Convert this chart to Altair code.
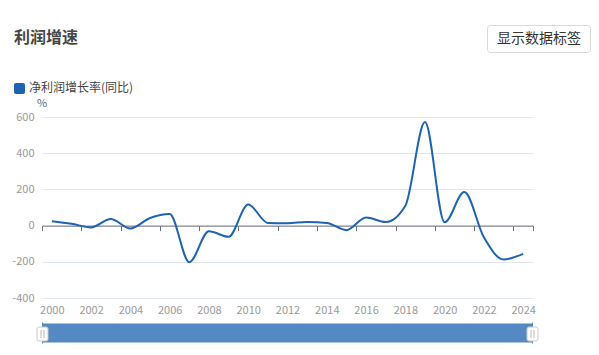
import altair as alt
import pandas as pd

# ---- data ----
years = list(range(2000, 2025))
growth = [24, 10, -10, 37, -16, 42, 64, -202, -31, -62, 116, 15, 13, 20, 15,
          -25, 45, 20, 110, 572, 18, 185, -65, -187, -156]
y_ticks = [-400, -200, 0, 200, 400, 600]
x_label_years = [y for y in years if y % 2 == 0]
# band boundaries where the zero-axis carries ticks
x_tick_bounds = [y - 0.5 for y in x_label_years] + [years[-1] + 0.5]

series_name = "净利润增长率(同比)"
title_text = "利润增速"
button_text = "显示数据标签"
unit_text = "%"

W, H = 491, 181
FONT = "Noto Sans CJK SC"
LINE_COLOR = "#1f64b0"
AXIS_COLOR = "#6e7079"
LABEL_COLOR = "#9a9a9a"
GRID_COLOR = "#e0e6f1"

df = pd.DataFrame({"year": years, "value": growth})

x_dom = [years[0] - 0.5, years[-1] + 0.5]
y_dom = [y_ticks[0], y_ticks[-1]]
xscale = alt.Scale(domain=x_dom, nice=False, zero=False)
yscale = alt.Scale(domain=y_dom, nice=False)

line = alt.Chart(df).mark_line(
    interpolate="monotone", color=LINE_COLOR, strokeWidth=2
).encode(
    x=alt.X("year:Q", scale=xscale,
            axis=alt.Axis(values=x_label_years, labelExpr="'' + datum.value",
                          orient="bottom",
                          domain=False, ticks=False, grid=False,
                          labelColor=LABEL_COLOR, labelFontSize=11, labelFont=FONT,
                          labelPadding=6, title=None, labelFlush=False)),
    y=alt.Y("value:Q", scale=yscale,
            axis=alt.Axis(values=y_ticks, labelExpr="'' + datum.value",
                          domain=False, ticks=False,
                          gridColor=GRID_COLOR, gridWidth=1,
                          labelColor=LABEL_COLOR, labelFontSize=11, labelFont=FONT,
                          labelPadding=8, title=None)),
)

# zero axis line with ticks at band boundaries
zero_offset = -H * (0 - y_dom[0]) / (y_dom[1] - y_dom[0])
zero_axis = alt.Chart(df).mark_point(opacity=0).encode(
    x=alt.X("year:Q", scale=xscale,
            axis=alt.Axis(values=x_tick_bounds, orient="bottom", offset=zero_offset,
                          labels=False, grid=False, domain=True,
                          domainColor=AXIS_COLOR, domainWidth=1,
                          tickColor=AXIS_COLOR, tickSize=5, tickWidth=1,
                          title=None)),
    y=alt.value(0),
)

one = pd.DataFrame({"a": [0]})

title = alt.Chart(one).mark_text(
    text=title_text, font=FONT, fontSize=16, fontWeight="bold",
    color="#464646", align="left", baseline="middle"
).encode(x=alt.value(-28), y=alt.value(-79))

legend_box = alt.Chart(one).mark_rect(color=LINE_COLOR, cornerRadius=2).encode(
    x=alt.value(-28), x2=alt.value(-17), y=alt.value(-34), y2=alt.value(-23))
legend_txt = alt.Chart(one).mark_text(
    text=series_name, font=FONT, fontSize=12, color="#444",
    align="left", baseline="middle"
).encode(x=alt.value(-13), y=alt.value(-29.5))

unit = alt.Chart(one).mark_text(
    text=unit_text, font=FONT, fontSize=11, color="#666",
    align="center", baseline="middle"
).encode(x=alt.value(0), y=alt.value(-13))

button = alt.Chart(one).mark_rect(
    fill="white", stroke="#d9d9d9", strokeWidth=1, cornerRadius=3
).encode(x=alt.value(445.5), x2=alt.value(548.5), y=alt.value(-91.5), y2=alt.value(-64.5))
button_txt = alt.Chart(one).mark_text(
    text=button_text, font=FONT, fontSize=14, color="#333",
    align="center", baseline="middle"
).encode(x=alt.value(497), y=alt.value(-78))

# data zoom slider
slider = alt.Chart(one).mark_rect(color="#5589c4").encode(
    x=alt.value(0), x2=alt.value(W), y=alt.value(206.5), y2=alt.value(225.5))
edge_l = alt.Chart(one).mark_rule(color="#5589c4", strokeWidth=1).encode(
    x=alt.value(0.5), y=alt.value(205.5), y2=alt.value(226.5))
edge_r = alt.Chart(one).mark_rule(color="#5589c4", strokeWidth=1).encode(
    x=alt.value(W - 0.5), y=alt.value(205.5), y2=alt.value(226.5))
handle_l = alt.Chart(one).mark_rect(
    fill="white", stroke="#c8c8c8", strokeWidth=1, cornerRadius=2
).encode(x=alt.value(-5), x2=alt.value(6), y=alt.value(210), y2=alt.value(224))
handle_r = alt.Chart(one).mark_rect(
    fill="white", stroke="#c8c8c8", strokeWidth=1, cornerRadius=2
).encode(x=alt.value(W - 6), x2=alt.value(W + 5), y=alt.value(210), y2=alt.value(224))
grip = []
for cx in (0.5, W - 0.5):
    for dx in (-1.5, 1.5):
        grip.append(alt.Chart(one).mark_rule(color="#bbbbbb", strokeWidth=1).encode(
            x=alt.value(cx + dx), y=alt.value(213), y2=alt.value(221)))

chart = alt.layer(
    line, zero_axis, title, legend_box, legend_txt, unit, button, button_txt,
    slider, edge_l, edge_r, handle_l, handle_r, *grip
).resolve_axis(x="independent").properties(
    width=W, height=H,
    padding={"left": 42, "top": 117, "right": 66, "bottom": 57},
    autosize=alt.AutoSizeParams(type="none"),
).configure_view(stroke=None)

chart.save("out.html", embed_options={"renderer": "svg", "actions": False})
